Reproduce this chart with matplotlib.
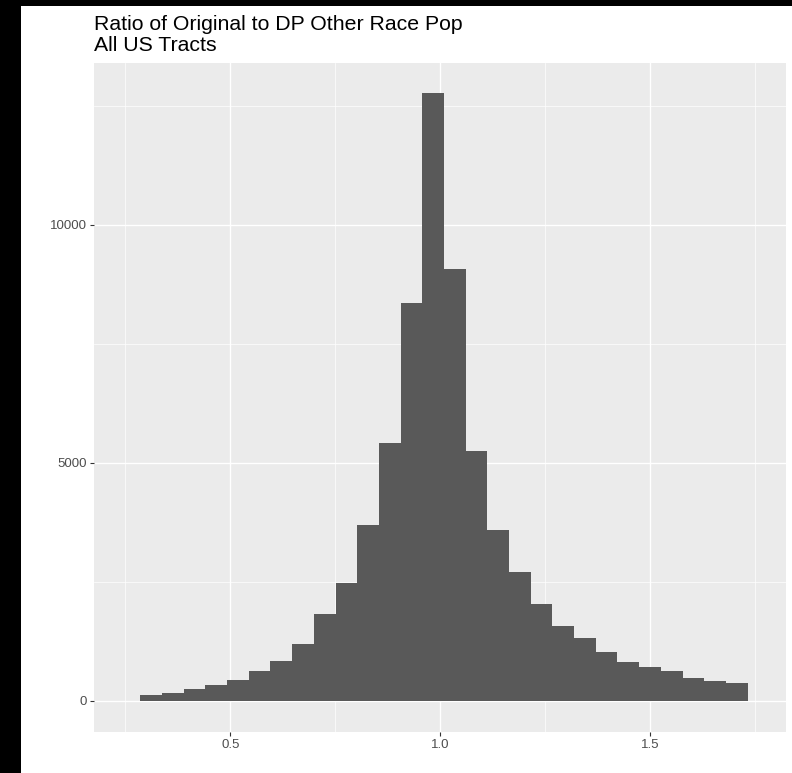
import numpy as np
import matplotlib
matplotlib.use('Agg')
import matplotlib.pyplot as plt
from matplotlib.patches import Rectangle
from matplotlib.ticker import FixedLocator

plt.rcParams['font.family'] = ['Liberation Sans', 'DejaVu Sans']

# histogram of ratio, 28 visible bins
bin_start = 0.2856
bin_width = 0.05166
counts = [132, 168, 245, 329, 441, 630, 840, 1197, 1821, 2479,
          3697, 5420, 8368, 12767, 9069, 5245, 3586, 2704, 2031, 1576,
          1331, 1036, 826, 707, 630, 483, 427, 378]

x_ticks = [0.5, 1.0, 1.5]
x_labels = ['0.5', '1.0', '1.5']
x_minor = [0.25, 0.75, 1.25, 1.75]
y_ticks = [0, 5000, 10000]
y_labels = ['0', '5000', '10000']
y_minor = [2500, 7500, 12500]

title = 'Ratio of Original to DP Other Race Pop\nAll US Tracts'

W, H = 792, 773
fig = plt.figure(figsize=(W / 100, H / 100), dpi=100)
fig.patch.set_facecolor('black')
fig.patches.append(Rectangle((21 / W, 0), 1 - 21 / W, 1 - 6 / H,
                             transform=fig.transFigure, facecolor='white',
                             edgecolor='none', zorder=-5))

ax = fig.add_axes([94 / W, 1 - 731.7 / H, (786 - 94) / W, (731.7 - 63.3) / H])
ax.set_zorder(2)
ax.set_facecolor('#EBEBEB')

lefts = bin_start + bin_width * np.arange(len(counts))
ax.bar(lefts, counts, width=bin_width, align='edge', color='#595959',
       edgecolor='none', zorder=3)

ax.set_xlim(0.1753, 1.8235)
ax.set_ylim(-645, 13397)

ax.set_xticks(x_ticks)
ax.set_xticklabels(x_labels)
ax.xaxis.set_minor_locator(FixedLocator(x_minor))
ax.set_yticks(y_ticks)
ax.set_yticklabels(y_labels)
ax.yaxis.set_minor_locator(FixedLocator(y_minor))

ax.grid(which='major', color='white', linewidth=1.0, zorder=1)
ax.grid(which='minor', color='white', linewidth=0.5, zorder=1)
ax.set_axisbelow(True)
for s in ax.spines.values():
    s.set_visible(False)

ax.tick_params(which='major', length=3, width=0.8, color='#333333',
               labelcolor='#4D4D4D', labelsize=9.5, pad=2)
ax.tick_params(which='minor', length=0)

fig.text(94 / W, 1 - 15.5 / H, title, ha='left', va='top',
         fontsize=15.3, color='black', linespacing=1.12, zorder=3)

fig.savefig('out.png', dpi=100, facecolor=fig.get_facecolor())
